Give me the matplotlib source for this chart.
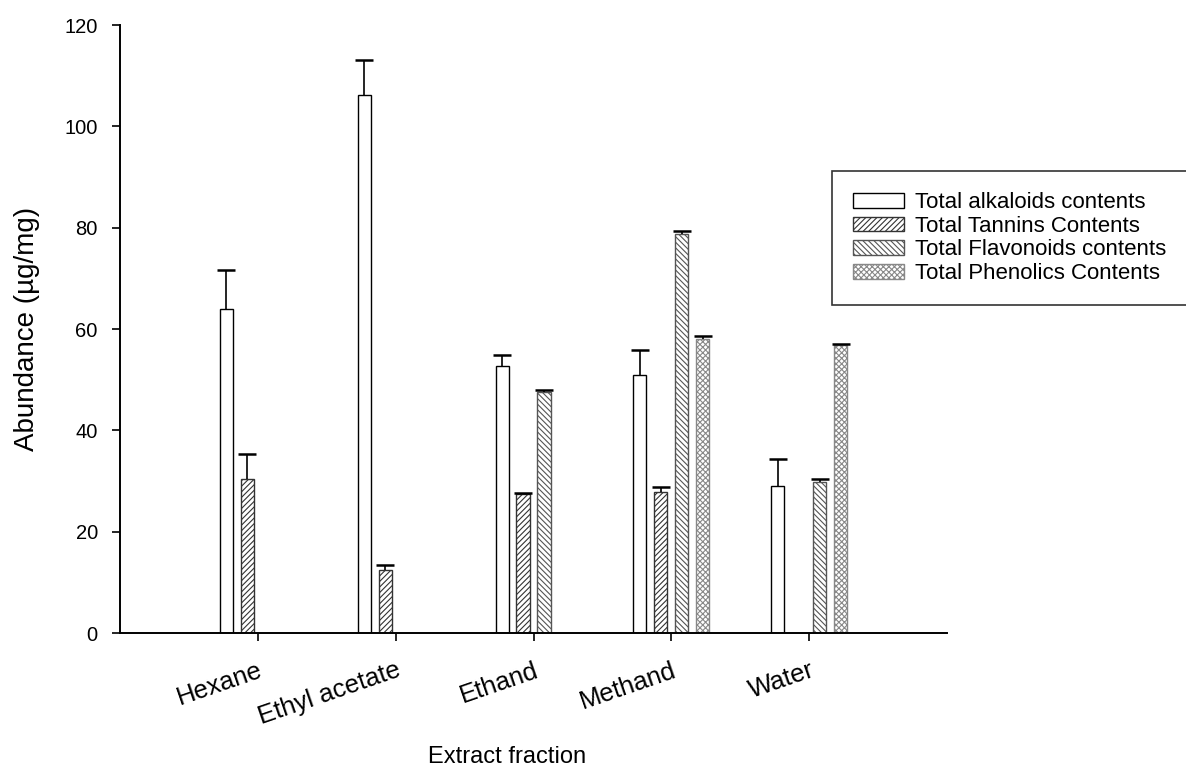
import numpy as np
import matplotlib
matplotlib.use("Agg")
import matplotlib.pyplot as plt

plt.rcParams['font.family'] = ['Liberation Sans', 'DejaVu Sans']
plt.rcParams['hatch.linewidth'] = 0.8

fractions = ['Hexane', 'Ethyl acetate', 'Ethand', 'Methand', 'Water']
series = ['Total alkaloids contents', 'Total Tannins Contents',
          'Total Flavonoids contents', 'Total Phenolics Contents']

alkaloids = [64.0, 106.2, 52.8, 50.9, 29.0]
alkaloids_err = [7.6, 6.9, 2.1, 5.0, 5.4]
tannins = [30.4, 12.5, 27.5, 27.9, 0]
tannins_err = [5.0, 1.0, 0.2, 1.0, 0]
flavonoids = [0, 0, 47.5, 78.7, 29.8]
flavonoids_err = [0, 0, 0.5, 0.6, 0.6]
phenolics = [0, 0, 0, 58.0, 56.8]
phenolics_err = [0, 0, 0, 0.6, 0.3]

values = [alkaloids, tannins, flavonoids, phenolics]
errors = [alkaloids_err, tannins_err, flavonoids_err, phenolics_err]
hatches = ['', '//////', '\\\\\\\\\\\\', 'xxxxxx']
edges = ['black', '#333333', '#555555', '#888888']

fig = plt.figure(figsize=(11.86, 7.82), dpi=100)
ax = fig.add_axes([0.1012, 0.1905, 0.6973, 0.7775])

x = np.arange(len(fractions))
w = 0.095
step = 0.152
handles = []
for i in range(4):
    pos = x + (i - 1.5) * step
    vals = np.array(values[i])
    errs = np.array(errors[i])
    mask = vals > 0
    b = ax.bar(pos[mask], vals[mask], width=w, color='white',
               edgecolor=edges[i], hatch=hatches[i], linewidth=1.0,
               label=series[i])
    # upper error only, no cap at bar top
    eb = ax.errorbar(pos[mask], vals[mask],
                     yerr=[np.zeros(mask.sum()), errs[mask]],
                     fmt='none', ecolor='black', elinewidth=1.2,
                     capsize=6.5, capthick=1.8)
    eb[1][0].set_visible(False)
    handles.append(b)

ax.set_xlim(-1, 5)
ax.set_ylim(0, 120)
ax.set_yticks(np.arange(0, 121, 20))
ax.set_xticks(x)
ax.set_xticklabels(fractions, rotation=19, ha='right', va='top', fontsize=18.5,
                   rotation_mode='anchor')
ax.tick_params(axis='y', labelsize=14.5, direction='out', length=6, width=1.2, pad=10)
ax.tick_params(axis='x', direction='out', length=6, width=1.2, pad=12)
ax.spines['top'].set_visible(False)
ax.spines['right'].set_visible(False)
ax.spines['left'].set_linewidth(1.4)
ax.spines['bottom'].set_linewidth(1.4)

ax.set_ylabel('Abundance (\u00b5g/mg)', fontsize=20)
ax.yaxis.set_label_coords(-0.097, 0.5)
fig.text(0.4275, 0.032, 'Extract fraction', ha='center', va='center', fontsize=17)

leg = fig.legend(handles=handles, labels=series, loc='upper left',
                 bbox_to_anchor=(0.7015, 0.7813), fontsize=16, frameon=True,
                 fancybox=False, edgecolor='black', handlelength=2.3,
                 handleheight=0.65, labelspacing=0.12, handletextpad=0.5,
                 borderpad=0.95, borderaxespad=0)
leg.get_frame().set_linewidth(1.2)

fig.savefig('out.png', dpi=100)
